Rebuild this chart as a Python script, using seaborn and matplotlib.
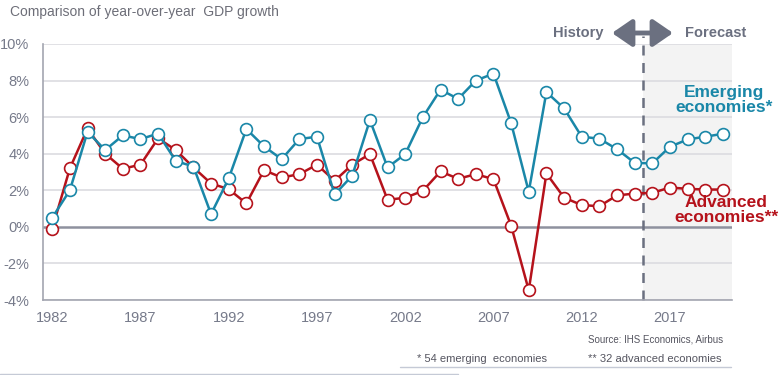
import numpy as np
import pandas as pd
import matplotlib
matplotlib.use('Agg')
import matplotlib.pyplot as plt
from matplotlib.lines import Line2D
import seaborn as sns

years = list(range(1982, 2021))
emerging = [0.5, 2.0, 5.2, 4.2, 5.0, 4.8, 5.1, 3.6, 3.3, 0.7,
            2.65, 5.35, 4.4, 3.7, 4.8, 4.93, 1.77, 2.8, 5.84, 3.25,
            3.98, 6.0, 7.5, 7.0, 8.0, 8.38, 5.68, 1.92, 7.37, 6.48,
            4.93, 4.82, 4.25, 3.5, 3.47, 4.38, 4.78, 4.93, 5.09]
advanced = [-0.1, 3.2, 5.38, 4.0, 3.18, 3.4, 4.84, 4.2, 3.25, 2.37,
            2.06, 1.28, 3.1, 2.7, 2.88, 3.4, 2.52, 3.4, 3.98, 1.48,
            1.59, 1.97, 3.03, 2.63, 2.88, 2.61, 0.07, -3.47, 2.92, 1.6,
            1.19, 1.13, 1.72, 1.82, 1.86, 2.15, 2.08, 2.04, 2.04]
yticks = [-4, -2, 0, 2, 4, 6, 8, 10]
year_labels = [1982, 1987, 1992, 1997, 2002, 2007, 2012, 2017]
forecast_start = 2015.5

blue = '#1a87a8'
red = '#b5121b'
gray_txt = '#767a8a'
dark_gray = '#6b7080'

df = pd.DataFrame({'year': years, 'Emerging': emerging, 'Advanced': advanced})

sns.set_style('white')
plt.rcParams['font.family'] = ['Liberation Sans', 'DejaVu Sans']

fig = plt.figure(figsize=(7.82, 3.75), dpi=100)
ax = fig.add_axes([0.0555, 0.2, 0.8802, 0.6827])

ax.axvspan(forecast_start, 2020.5, color='#f3f3f3', zorder=0, lw=0)
for v in yticks:
    if v == 0:
        ax.axhline(v, color='#8e919e', lw=1.8, zorder=1)
    else:
        ax.axhline(v, color='#dcdce0', lw=1.2, zorder=1)

sns.lineplot(data=df, x='year', y='Advanced', ax=ax, color=red, lw=1.8,
             marker='o', markersize=8.5, markerfacecolor='white',
             markeredgecolor=red, markeredgewidth=1.2, zorder=3)
sns.lineplot(data=df, x='year', y='Emerging', ax=ax, color=blue, lw=1.8,
             marker='o', markersize=8.5, markerfacecolor='white',
             markeredgecolor=blue, markeredgewidth=1.2, zorder=4)

ax.axvline(forecast_start, color=dark_gray, lw=1.8, ls=(0, (4, 3)), zorder=2,
           ymax=1.03, clip_on=False)

ax.set_xlim(1981.5, 2020.5)
ax.set_ylim(-4, 10)
ax.set_xlabel('')
ax.set_ylabel('')

ax.set_yticks(yticks)
ax.set_yticklabels([f'{v}%' for v in yticks])
ax.set_xticks(year_labels)
ax.set_xticklabels([str(y) for y in year_labels])
ax.set_xticks(np.arange(1981.5, 2021.5, 1.0), minor=True)
ax.tick_params(axis='x', which='major', length=0, pad=8, labelsize=10.5, colors=gray_txt)
ax.tick_params(axis='x', which='minor', length=5, width=1, color='#9a9caa', direction='out')
ax.tick_params(axis='y', length=0, pad=10, labelsize=10.5, colors=gray_txt)

for s in ['top', 'right']:
    ax.spines[s].set_visible(False)
ax.spines['left'].set_color('#a3a5b0')
ax.spines['bottom'].set_color('#a3a5b0')
ax.spines['left'].set_linewidth(1.2)
ax.spines['bottom'].set_linewidth(1.2)

fig.text(10 / 782, 1 - 12 / 375, 'Comparison of year-over-year  GDP growth',
         fontsize=10, color='#6d6e78', va='center', ha='left')

fig.text(604 / 782, 1 - 33 / 375, 'History', fontsize=10.5, fontweight='bold',
         color=dark_gray, ha='right', va='center')
fig.text(685 / 782, 1 - 33 / 375, 'Forecast', fontsize=10.5, fontweight='bold',
         color=dark_gray, ha='left', va='center')
fig.patches.append(matplotlib.patches.FancyArrowPatch(
    (612 / 782, 1 - 33 / 375), (673 / 782, 1 - 33 / 375),
    transform=fig.transFigure, arrowstyle='<|-|>,head_length=0.8,head_width=0.55',
    mutation_scale=15, lw=3.5, color=dark_gray, shrinkA=0, shrinkB=0))

fig.text(724 / 782, 1 - 100 / 375, 'Emerging\neconomies*', fontsize=12.5,
         fontweight='bold', color=blue, ha='center', va='center', linespacing=1.0)
fig.text(726 / 782, 1 - 210 / 375, 'Advanced\neconomies**', fontsize=12.5,
         fontweight='bold', color=red, ha='center', va='center', linespacing=1.0)

fig.text(723 / 782, 1 - 340 / 375, 'Source: IHS Economics, Airbus', fontsize=7,
         color='#555560', ha='right', va='center')
fig.text(482 / 782, 1 - 359 / 375, '* 54 emerging  economies', fontsize=8,
         color='#555560', ha='center', va='center')
fig.text(722 / 782, 1 - 359 / 375, '** 32 advanced economies', fontsize=8,
         color='#555560', ha='right', va='center')
fig.add_artist(Line2D([400 / 782, 731 / 782], [1 - 367 / 375] * 2,
                      transform=fig.transFigure, color='#c5cad6', lw=1))
fig.add_artist(Line2D([0, 458 / 782], [1 - 373.5 / 375] * 2,
                      transform=fig.transFigure, color='#c5cad6', lw=1))

fig.savefig('out.png', dpi=100)
